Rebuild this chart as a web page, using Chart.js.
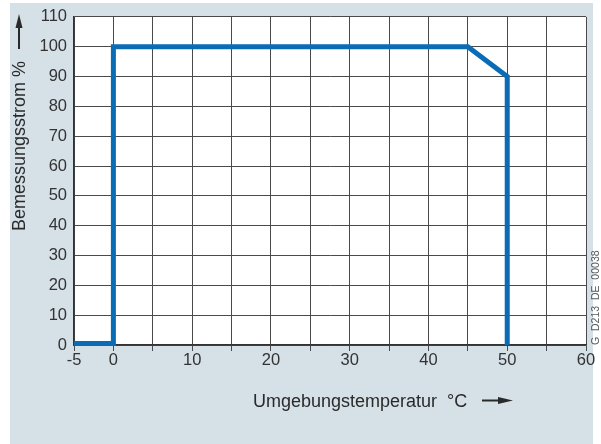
<!DOCTYPE html>
<html>
<head>
<meta charset="utf-8">
<script src="https://cdn.jsdelivr.net/npm/chart.js@4/dist/chart.umd.min.js"></script>
<style>
  html, body { margin: 0; padding: 0; background: #ffffff; }
  #wrap { position: relative; width: 601px; height: 444px; }
  canvas { display: block; }
</style>
</head>
<body>
<div id="wrap"><canvas id="chart" width="601" height="444"></canvas></div>
<script>
// Derating curve: rated current vs. ambient temperature
const temperatures = [-5, 0, 0, 45, 50, 50];
const ratedCurrent = [0.5, 0.5, 100, 100, 90, 0];
const xTicksLabelled = [-5, 0, 10, 20, 30, 40, 50, 60];
const yTitle = 'Bemessungsstrom %';
const xTitle = 'Umgebungstemperatur  °C';
const drawingId = 'G_D213_DE_00038';

const FONT = '"Liberation Sans", Arial, sans-serif';
const points = temperatures.map((t, i) => ({ x: t, y: ratedCurrent[i] }));

const framePlugin = {
  id: 'frame',
  beforeDraw(chart) {
    const { ctx, chartArea: a } = chart;
    ctx.save();
    ctx.fillStyle = '#ffffff';
    ctx.fillRect(0, 0, chart.width, chart.height);
    ctx.fillStyle = '#d5e0e7';
    ctx.fillRect(10, 3, 583, 441);
    ctx.fillStyle = '#ffffff';
    ctx.fillRect(a.left, a.top, a.right - a.left, a.bottom - a.top);
    ctx.restore();
  },
  afterDraw(chart) {
    const { ctx } = chart;
    ctx.save();
    ctx.fillStyle = '#2a2a2a';
    ctx.strokeStyle = '#2a2a2a';
    ctx.font = '18px ' + FONT;

    // y title, rotated, with upward arrow
    ctx.save();
    ctx.translate(25, 231);
    ctx.rotate(-Math.PI / 2);
    ctx.textAlign = 'left';
    ctx.textBaseline = 'alphabetic';
    ctx.fillText(yTitle, 0, 0);
    ctx.restore();
    ctx.lineWidth = 2;
    ctx.beginPath();
    ctx.moveTo(19, 49);
    ctx.lineTo(19, 24);
    ctx.stroke();
    ctx.beginPath();
    ctx.moveTo(19, 14);
    ctx.lineTo(15.5, 28);
    ctx.lineTo(22.5, 28);
    ctx.closePath();
    ctx.fill();

    // x title with arrow to the right
    ctx.textAlign = 'left';
    ctx.textBaseline = 'alphabetic';
    ctx.fillText(xTitle, 253, 407);
    ctx.beginPath();
    ctx.moveTo(482, 400.5);
    ctx.lineTo(502, 400.5);
    ctx.stroke();
    ctx.beginPath();
    ctx.moveTo(513, 400.5);
    ctx.lineTo(498, 397);
    ctx.lineTo(498, 404);
    ctx.closePath();
    ctx.fill();

    // drawing number
    ctx.save();
    ctx.fillStyle = '#5a5a5a';
    ctx.font = '10.5px ' + FONT;
    ctx.translate(599, 345);
    ctx.rotate(-Math.PI / 2);
    ctx.fillText(drawingId.replace(/_/g, '  '), 0, 0);
    ctx.restore();
    ctx.restore();
  }
};

new Chart(document.getElementById('chart'), {
  type: 'scatter',
  data: {
    datasets: [{
      data: points,
      showLine: true,
      borderColor: '#0a6cb5',
      borderWidth: 5,
      borderJoinStyle: 'miter',
      borderCapStyle: 'butt',
      pointRadius: 0,
      pointHoverRadius: 0,
      tension: 0,
      clip: false
    }]
  },
  options: {
    responsive: false,
    animation: false,
    devicePixelRatio: 1,
    layout: { padding: { top: 15, right: 15, left: 0, bottom: 0 } },
    plugins: { legend: { display: false }, tooltip: { enabled: false } },
    scales: {
      x: {
        type: 'linear',
        min: -5,
        max: 60,
        afterFit(scale) { scale.height = 99; },
        afterBuildTicks(scale) {
          const t = [];
          for (let v = -5; v <= 60; v += 5) t.push({ value: v });
          scale.ticks = t;
        },
        ticks: {
          autoSkip: false,
          maxRotation: 0,
          padding: 0,
          color: '#333333',
          font: { family: FONT, size: 16.5 },
          callback: (v) => xTicksLabelled.includes(v) ? String(v) : ''
        },
        grid: { color: '#4a4a4a', lineWidth: 1, tickLength: 6, drawTicks: true },
        border: { color: '#333333', width: 1.5 }
      },
      y: {
        type: 'linear',
        min: 0,
        max: 110,
        afterFit(scale) { scale.width = 74; },
        ticks: {
          stepSize: 10,
          padding: 7,
          color: '#333333',
          font: { family: FONT, size: 16.5 }
        },
        grid: { color: '#4a4a4a', lineWidth: 1, tickLength: 0, drawTicks: true },
        border: { color: '#333333', width: 1.5 }
      }
    }
  },
  plugins: [framePlugin]
});
</script>
</body>
</html>
